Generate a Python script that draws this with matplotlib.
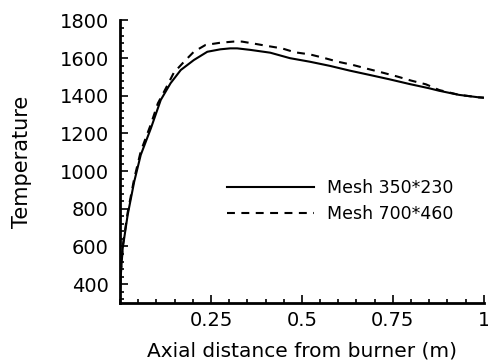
import matplotlib
matplotlib.use('Agg')
import matplotlib.pyplot as plt
from matplotlib.ticker import MultipleLocator

# distance (m) and temperature
x_coarse = [0.0, 0.003, 0.0074, 0.021, 0.039, 0.057, 0.085, 0.112, 0.139, 0.167,
            0.203, 0.240, 0.276, 0.303, 0.322, 0.358, 0.413, 0.467, 0.522, 0.577,
            0.631, 0.686, 0.740, 0.795, 0.850, 0.877, 0.932, 0.986, 1.0]
t_coarse = [380, 470, 590, 767, 944, 1086, 1228, 1378, 1467, 1537,
            1590, 1634, 1647, 1652, 1652, 1644, 1629, 1600, 1581, 1559,
            1534, 1511, 1488, 1463, 1440, 1427, 1405, 1392, 1390]

x_fine = [0.0, 0.003, 0.0074, 0.021, 0.039, 0.057, 0.085, 0.104, 0.126, 0.148,
          0.176, 0.203, 0.235, 0.276, 0.312, 0.335, 0.363, 0.404, 0.445, 0.481,
          0.522, 0.563, 0.599, 0.640, 0.681, 0.722, 0.763, 0.800, 0.841, 0.877,
          0.932, 0.986, 1.0]
t_fine = [380, 480, 600, 780, 960, 1105, 1250, 1360, 1440, 1523,
          1581, 1634, 1670, 1682, 1688, 1688, 1679, 1665, 1652, 1631,
          1620, 1600, 1581, 1564, 1543, 1523, 1502, 1481, 1461, 1431,
          1405, 1392, 1390]

labels = ['Mesh 350*230', 'Mesh 700*460']

plt.rcParams['font.family'] = ['DejaVu Sans']

fig = plt.figure(figsize=(4.89, 3.62), dpi=100)
ax = fig.add_axes([0.2454, 0.163, 0.744, 0.7804])

ax.plot(x_coarse, t_coarse, color='black', lw=1.5, label=labels[0])
ax.plot(x_fine, t_fine, color='black', lw=1.5, ls=(0, (3.8, 3.1)), label=labels[1])

ax.set_xlim(0, 1)
ax.set_ylim(300, 1800)
ax.xaxis.set_minor_locator(MultipleLocator(0.05))
ax.yaxis.set_minor_locator(MultipleLocator(40))
ax.set_xticks([0.25, 0.5, 0.75, 1.0])
ax.set_xticklabels(['0.25', '0.5', '0.75', '1'])
ax.set_yticks([400, 600, 800, 1000, 1200, 1400, 1600, 1800])

for s in ['top', 'right']:
    ax.spines[s].set_visible(False)
for s in ['left', 'bottom']:
    ax.spines[s].set_linewidth(2)

ax.tick_params(which='major', direction='in', length=6, width=1.2, labelsize=14, pad=6)
ax.tick_params(which='minor', direction='in', length=3, width=1.2)
ax.tick_params(axis='y', which='major', pad=8)

ax.set_xlabel('Axial distance from burner (m)', fontsize=14.5, labelpad=8)
ax.set_ylabel('Temperature', fontsize=15, labelpad=20)

leg = ax.legend(loc='upper left', bbox_to_anchor=(0.295, 0.44), frameon=False,
                handlelength=5.0, fontsize=12.5, handletextpad=0.75,
                labelspacing=0.5, borderpad=0, borderaxespad=0)

fig.savefig('out.png', dpi=100)
